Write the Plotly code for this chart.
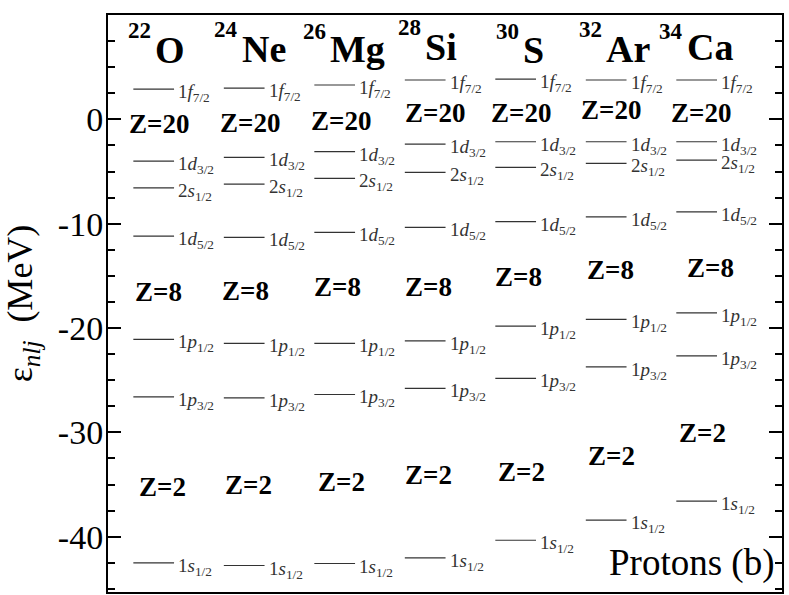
import plotly.graph_objects as go

# ---------------- data ----------------
nuclei_mass = ["22", "24", "26", "28", "30", "32", "34"]
nuclei_elem = ["O", "Ne", "Mg", "Si", "S", "Ar", "Ca"]

orbitals = ["1<i>f</i><sub>7/2</sub>", "1<i>d</i><sub>3/2</sub>", "2<i>s</i><sub>1/2</sub>",
            "1<i>d</i><sub>5/2</sub>", "1<i>p</i><sub>1/2</sub>", "1<i>p</i><sub>3/2</sub>",
            "1<i>s</i><sub>1/2</sub>"]

# single-particle proton energies (MeV), order as in `orbitals`
e_O22 = [2.9, -4.0, -6.56, -11.19, -21.09, -26.6, -42.5]
e_Ne24 = [3.0, -3.65, -6.2, -11.31, -21.48, -26.7, -42.76]
e_Mg26 = [3.29, -3.1, -5.66, -10.84, -21.48, -26.37, -42.57]
e_Si28 = [3.77, -2.37, -5.08, -10.36, -21.23, -25.79, -42.03]
e_S30 = [3.85, -2.15, -4.6, -9.8, -19.82, -24.83, -40.34]
e_Ar32 = [3.77, -2.15, -4.22, -9.34, -19.18, -23.72, -38.42]
e_Ca34 = [3.77, -2.15, -3.9, -8.86, -18.54, -22.67, -36.6]
energies = [e_O22, e_Ne24, e_Mg26, e_Si28, e_S30, e_Ar32, e_Ca34]

y_tickvals = [-40, -30, -20, -10, 0, 10]
y_ticktext = ["-40", "-30", "-20", "-10", "0", "10"]

# shell-gap label placement (MeV)
z20_y = [-0.45, -0.35, -0.16, 0.6, 0.6, 0.89, 0.6]
z8_y = [-16.56, -16.46, -16.08, -16.08, -15.12, -14.45, -14.26]
z2_y = [-35.25, -35.06, -34.77, -34.1, -33.8, -32.28, -30.08]
# horizontal offsets of gap labels from level start (pixels)
z20_dx = [-6, -5.5, -5, -1.5, -6, -6.5, -7]
z8_dx = [0, -3.5, -2, -1.5, -2, -0.5, 9]
z2_dx = [4, -0.5, 2, -1.5, 1, 0.5, 1]
# nucleus label junction offsets (pixels from level start)
nuc_dx = [20, 16.5, 14, 18.5, 26, 18.5, 9]
nuc_sup_y = [8.5, 8.6, 8.4, 8.8, 8.4, 8.6, 8.4]
nuc_y = [6.6, 6.7, 6.7, 6.9, 6.6, 6.7, 6.9]

COL_PX = 90.5
LINE_LEN = 0.45
FONT = "Liberation Serif"

fig = go.Figure()

xs, ys = [], []
for i, elist in enumerate(energies):
    for e in elist:
        xs += [i, i + LINE_LEN, None]
        ys += [e, e, None]
fig.add_trace(go.Scatter(x=xs, y=ys, mode="lines",
                         line=dict(color="#333333", width=1.2),
                         hoverinfo="skip", showlegend=False))

ann = []
for i, elist in enumerate(energies):
    for e, lab in zip(elist, orbitals):
        ann.append(dict(x=i + LINE_LEN, y=e, xref="x", yref="y", text=lab,
                        showarrow=False, xanchor="left", yanchor="middle",
                        xshift=2, yshift=-4,
                        font=dict(family=FONT, size=19, color="#333333")))
    for ty, tdx, txt in ((z20_y, z20_dx, "Z=20"), (z8_y, z8_dx, "Z=8"), (z2_y, z2_dx, "Z=2")):
        ann.append(dict(x=i + tdx[i] / COL_PX, y=ty[i], xref="x", yref="y",
                        text="<b>%s</b>" % txt, showarrow=False,
                        xanchor="left", yanchor="middle",
                        font=dict(family=FONT, size=27, color="black")))
    jx = i + nuc_dx[i] / COL_PX
    ann.append(dict(x=jx, y=nuc_sup_y[i], xref="x", yref="y",
                    text="<b>%s</b>" % nuclei_mass[i], showarrow=False,
                    xanchor="right", yanchor="middle",
                    font=dict(family=FONT, size=23, color="black")))
    ann.append(dict(x=jx, y=nuc_y[i], xref="x", yref="y",
                    text="<b>%s</b>" % nuclei_elem[i], showarrow=False,
                    xanchor="left", yanchor="middle",
                    font=dict(family=FONT, size=38, color="black")))

ann.append(dict(x=0.991, y=0.05, xref="paper", yref="paper", text="Protons (b)",
                showarrow=False, xanchor="right", yanchor="middle",
                font=dict(family=FONT, size=37, color="black")))

fig.update_layout(
    width=789, height=595,
    margin=dict(l=108, r=7, t=15, b=3),
    paper_bgcolor="white", plot_bgcolor="white",
    annotations=ann,
    font=dict(family=FONT, color="black"),
)
fig.update_xaxes(range=[-0.28, 7.168], showticklabels=False, ticks="",
                 showgrid=False, zeroline=False, showline=True, mirror=True,
                 linecolor="black", linewidth=2)
fig.update_yaxes(range=[-45.3, 10], tickvals=y_tickvals, ticktext=y_ticktext,
                 ticks="inside", ticklen=13, tickwidth=2, tickcolor="black",
                 minor=dict(dtick=2.5, ticks="inside", ticklen=7, tickwidth=2,
                            tickcolor="black", showgrid=False),
                 showgrid=False, zeroline=False, showline=True, mirror="allticks",
                 linecolor="black", linewidth=2, ticklabelstandoff=-4,
                 tickfont=dict(family=FONT, size=34, color="black"),
                 title=dict(text="ε<sub><i>nlj</i></sub>  (MeV)",
                            font=dict(family=FONT, size=36, color="black"),
                            standoff=18))
fig.write_html("out.html", config={"displayModeBar": False},
               post_script="document.body.style.margin='0';document.body.style.padding='0';")
